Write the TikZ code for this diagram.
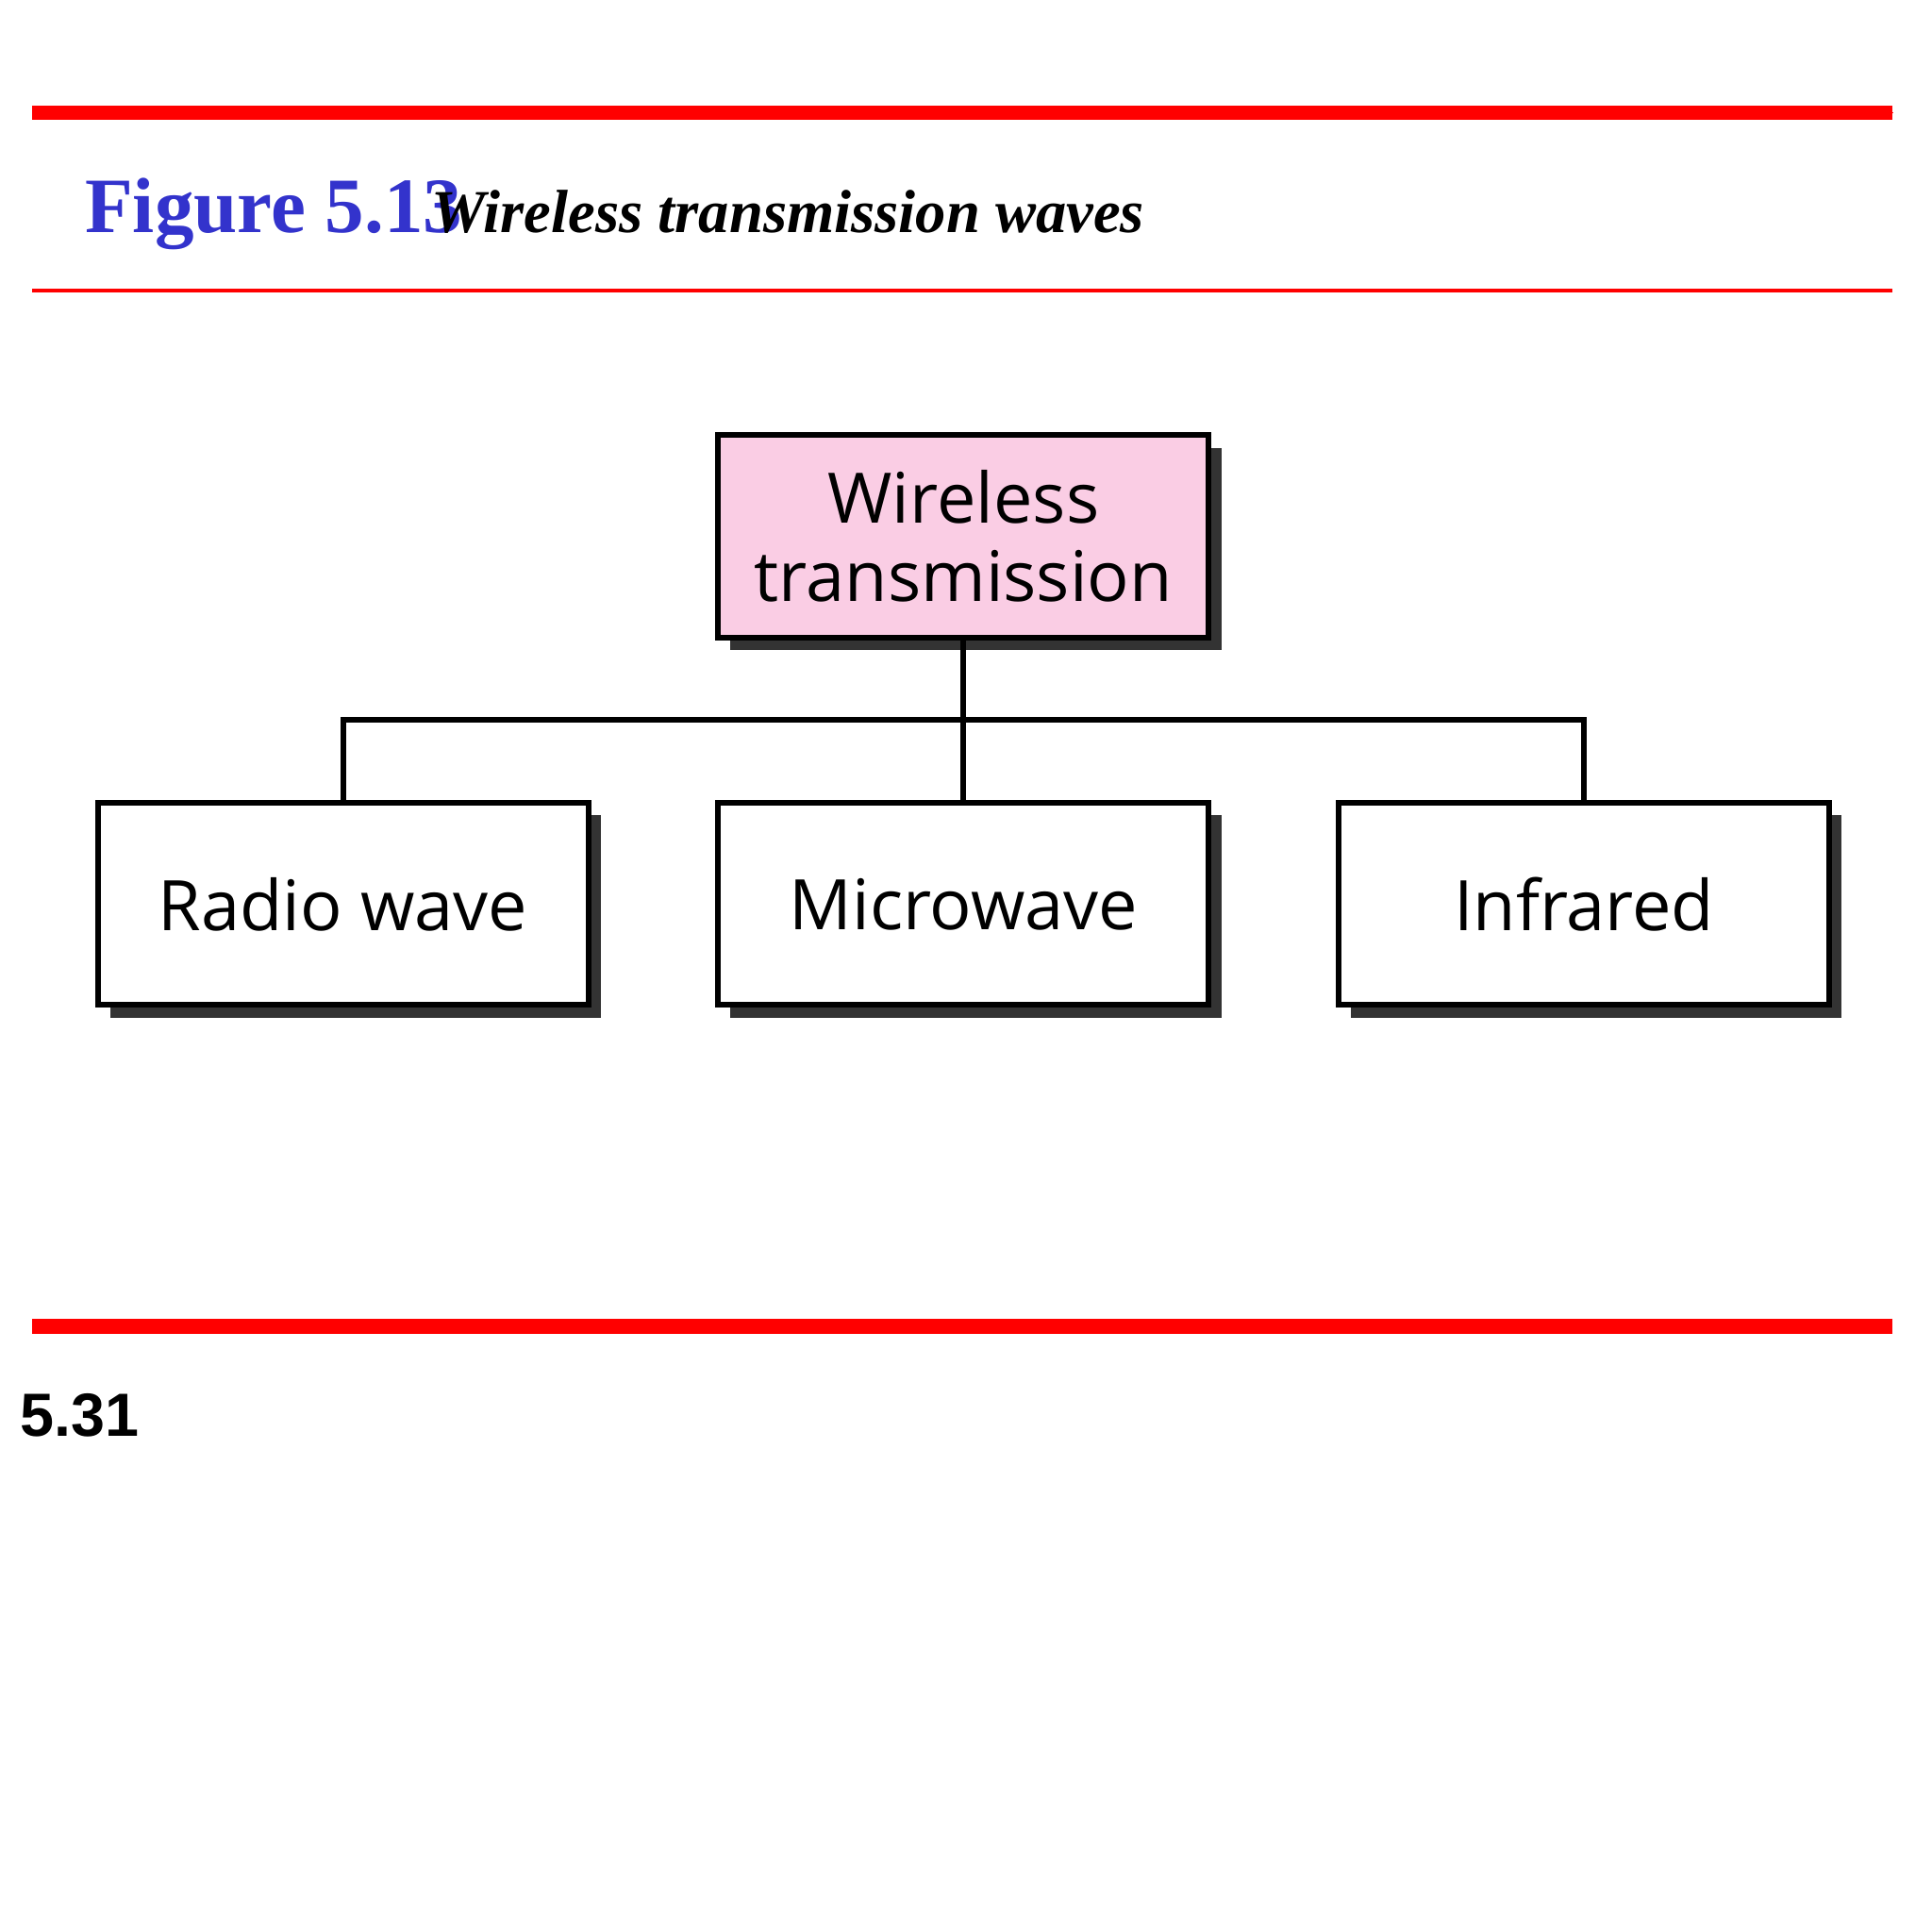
\documentclass[tikz,border=0pt]{standalone}
\usepackage{fontspec}
\setmainfont{Liberation Serif}
\newfontfamily\boxfont{Open Sans}
\newfontfamily\pagefont{Liberation Sans}
\usetikzlibrary{positioning}
\definecolor{figblue}{RGB}{51,51,204}
\definecolor{boxpink}{RGB}{250,205,228}
\tikzset{
  wbox/.style={draw, line width=1.3pt, minimum width=3.96cm, minimum height=1.63cm,
               align=center, font=\boxfont\fontsize{16}{20}\selectfont, fill=white,
               drop shadow={shadow xshift=0.1cm, shadow yshift=-0.1cm, fill=black!80, opacity=1}},
  link/.style={line width=1.3pt}
}
\usetikzlibrary{shadows}
\begin{document}
\begin{tikzpicture}[x=0.01cm,y=-0.01cm]
  \useasboundingbox (0,0) rectangle (1560,1560);
  % rules
  \draw[red, line width=12\pgflinewidth/0.4*0.0] (26,91) -- (1528,91);
  \fill[red] (26,85) rectangle (1528,97);
  \fill[red] (26,233) rectangle (1528,236);
  \fill[red] (26,1065) rectangle (1528,1077);
  % caption
  \node (fig) [anchor=base west, inner sep=0, text=figblue,
               font=\bfseries\fontsize{18}{20}\selectfont] at (68,188) {Figure 5.13};
  \node (cap) [anchor=base west, inner sep=0,
               font=\bfseries\itshape\fontsize{14}{16}\selectfont] at (348,188) {Wireless transmission waves};
  % tree
  \node (top) [wbox, fill=boxpink] at (778,433) {Wireless\\[-2pt]transmission};
  \node (radio) [wbox] at (277,730) {Radio wave};
  \node (micro) [wbox] at (778,730) {Microwave};
  \node (infra) [wbox] at (1279,730) {Infrared};
  \coordinate (fork) at (778,581);
  \draw[link] (top) -- (micro);
  \draw[link] (radio.north) |- (fork) -| (infra.north);
  % page number
  \node (page) [anchor=west, inner sep=0,
                font=\pagefont\bfseries\fontsize{14}{16}\selectfont] at (16,1143) {5.31};
\end{tikzpicture}
\end{document}
